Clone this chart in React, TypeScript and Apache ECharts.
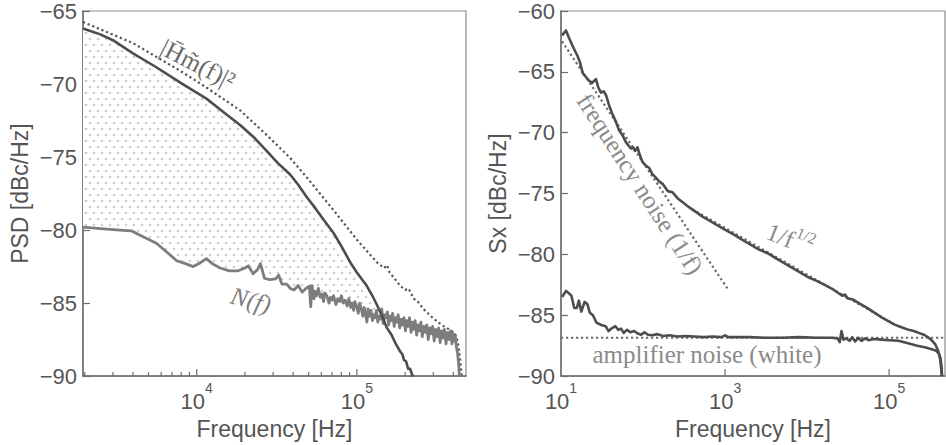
import React, { useEffect, useRef } from "react";
import * as echarts from "echarts";

// ---------- Left panel data (frequency in Hz, PSD in dBc/Hz) ----------
const hSolid: [number, number][] = [
  [1950, -66.2], [2500, -66.6], [3000, -67.0], [4000, -67.9], [5500, -68.8], [7900, -69.9],
  [11500, -71.0], [15000, -72.0], [18650, -72.8], [23000, -73.7], [27400, -74.6], [32000, -75.4],
  [38300, -76.2], [43000, -76.9], [48700, -77.75], [55000, -78.5], [62000, -79.3], [71500, -80.2],
  [80000, -81.1], [90800, -82.2], [100000, -82.9], [108000, -83.4], [115000, -83.8], [125000, -84.5],
  [133000, -85.1], [144000, -85.9], [154000, -86.7], [165000, -87.2], [175000, -87.8], [186000, -88.3],
  [192000, -88.5], [197000, -88.9], [203000, -89.0], [209000, -89.5], [215000, -89.5], [221000, -89.9],
  [226000, -90.0],
];

const hDotted: [number, number][] = [
  [1950, -65.75], [4000, -67.2], [7900, -69.1], [11500, -70.24], [18650, -71.8], [27400, -73.5],
  [38300, -75.06], [48700, -76.4], [71500, -78.64], [100000, -80.66], [133000, -82.2], [148000, -82.6],
  [154000, -82.4], [160000, -82.9], [186000, -83.8], [200000, -84.1], [210000, -84.0], [227000, -84.7],
  [240000, -84.9], [260000, -85.4], [290000, -85.9], [320000, -86.3], [350000, -86.6], [390000, -86.9],
  [412000, -87.15], [425000, -87.6], [436000, -88.4], [445000, -89.3], [452000, -90.0],
];

const noiseN: [number, number][] = [
  [1950, -79.8], [2500, -79.9], [3300, -80.0], [3900, -80.05], [4700, -80.5], [5600, -80.9],
  [6500, -81.5], [7500, -82.1], [8500, -82.3], [9500, -82.5], [10500, -82.25], [11500, -81.96],
  [12500, -82.3], [14000, -82.6], [16000, -82.8], [18000, -82.8], [20000, -82.6], [21000, -82.45],
  [22500, -83.0], [24000, -82.7], [25000, -82.3], [26500, -83.3], [28500, -83.4], [31000, -83.35],
  [32500, -83.1], [34000, -83.7], [36500, -83.7], [38500, -84.0], [40500, -84.1], [43000, -83.8],
  [45500, -84.25], [48000, -84.0], [50500, -83.85], [51500, -85.25], [52500, -83.8], [54000, -84.7],
  [55000, -84.2], [56000, -84.5], [57500, -84.0], [59000, -84.6], [60500, -84.4], [62000, -84.9],
  [63000, -84.3], [65000, -84.5], [67000, -85.0], [68500, -84.6], [70000, -84.8], [71500, -84.5],
  [74000, -85.1], [76000, -84.7], [78000, -84.9], [80000, -84.5], [82000, -85.0], [84500, -84.8],
  [87000, -85.2], [89000, -84.7], [91500, -85.3], [93000, -85.0], [95500, -85.5], [97000, -84.9],
  [99500, -85.2], [102000, -85.7], [104000, -85.0], [106500, -85.4], [109000, -85.9], [111000, -85.3],
  [113500, -85.8], [115500, -86.3], [117500, -85.4], [120000, -85.9], [122500, -85.5], [125000, -86.2],
  [127500, -85.8], [130000, -86.0], [132500, -85.5], [135000, -86.3], [138000, -85.9], [141000, -86.1],
  [143000, -85.4], [146000, -86.4], [149000, -85.8], [152000, -86.0], [155000, -85.6], [158000, -86.5],
  [161000, -85.9], [164000, -86.2], [167000, -85.7], [171000, -86.6], [174000, -86.0], [178000, -86.3],
  [181000, -85.8], [185000, -86.7], [189000, -86.1], [193000, -86.5], [197000, -86.0], [201000, -86.9],
  [205000, -86.2], [209000, -86.6], [213000, -86.0], [218000, -87.0], [222000, -86.3], [227000, -86.8],
  [231000, -86.2], [236000, -87.2], [241000, -86.5], [246000, -86.9], [251000, -86.3], [256000, -87.3],
  [262000, -86.6], [267000, -87.0], [273000, -86.5], [279000, -87.5], [285000, -86.7], [291000, -87.1],
  [297000, -86.6], [304000, -87.6], [310000, -86.8], [317000, -87.3], [324000, -86.7], [331000, -87.7],
  [338000, -86.9], [345000, -87.4], [352000, -86.8], [360000, -87.8], [368000, -87.0], [376000, -87.5],
  [384000, -86.9], [392000, -87.8], [400000, -87.1], [406000, -87.6], [412000, -87.3], [418000, -88.0],
  [425000, -88.4], [432000, -89.2], [437000, -90.0],
];

// ---------- Right panel data ----------
const sxUpper: [number, number][] = [
  [10.3, -62.0], [11.5, -61.6], [12.5, -62.2], [13.9, -62.9], [15.9, -63.7], [17, -64.2],
  [18.4, -65.1], [20, -65.4], [22.1, -65.75], [24, -65.9], [26.7, -65.6], [28.5, -66.3],
  [30.7, -66.7], [33, -66.6], [35.3, -66.9], [38.8, -67.8], [42, -68.4], [46.7, -69.1],
  [51, -69.8], [56.2, -70.2], [62, -70.8], [71.1, -71.3], [76, -71.2], [80, -71.5],
  [85.7, -71.2], [92, -71.9], [98.6, -72.4], [108, -72.7], [119, -72.9], [130, -73.4],
  [143, -73.7], [157, -74.0], [173, -74.2], [200, -74.8], [229, -74.9], [265, -75.4],
  [302, -75.7], [360, -76.1], [439, -76.5], [530, -76.9], [638, -77.2], [800, -77.6],
  [1019, -78.0], [1300, -78.4], [1625, -78.8], [2050, -79.2], [2592, -79.6], [3300, -79.9],
  [4137, -80.3], [5200, -80.7], [6603, -81.1], [8300, -81.5], [10520, -81.9], [13300, -82.2],
  [16800, -82.55], [21000, -82.9], [26800, -83.4], [29000, -83.3], [31000, -83.6], [36000, -83.7],
  [42700, -84.0], [54000, -84.4], [68200, -84.85], [82000, -85.2], [99100, -85.5], [115000, -85.75],
  [131000, -85.9], [150000, -86.05], [173000, -86.2], [200000, -86.3], [230000, -86.45], [265000, -86.6],
  [304000, -86.85], [335000, -87.1], [366000, -87.4], [395000, -87.9], [422000, -88.5], [435000, -89.2],
  [442000, -90.0],
];

const sxLower: [number, number][] = [
  [10.3, -83.5], [11.5, -83.0], [12.5, -83.2], [13.4, -83.4], [14.5, -84.4], [15.6, -84.4],
  [16.5, -83.8], [17.7, -84.7], [19.4, -83.9], [21, -84.1], [22.5, -84.8], [24.5, -85.0],
  [27, -85.6], [31, -85.8], [35, -85.9], [38, -86.3], [42, -86.05], [46, -85.9],
  [50, -86.2], [54, -86.1], [58, -86.45], [64, -86.2], [70, -86.4], [78, -86.3],
  [86, -86.5], [95, -86.6], [104, -86.4], [115, -86.6], [130, -86.65], [150, -86.55],
  [175, -86.7], [210, -86.65], [260, -86.75], [330, -86.7], [420, -86.75], [550, -86.8],
  [700, -86.75], [900, -86.8], [1000, -86.65], [1100, -86.8], [1400, -86.8], [2000, -86.8],
  [3000, -86.85], [5000, -86.85], [8000, -86.8], [13000, -86.85], [20000, -86.85], [23500, -86.9],
  [25000, -87.2], [26300, -86.3], [27800, -87.0], [30000, -86.9], [33000, -87.1], [35500, -86.8],
  [38500, -87.15], [42500, -86.85], [46000, -87.1], [51000, -86.9], [56000, -87.05], [65000, -86.95],
  [80000, -87.0], [100000, -87.05], [130000, -87.1], [170000, -87.3], [220000, -87.5], [280000, -87.65],
  [330000, -87.8], [370000, -87.9], [400000, -88.1], [420000, -88.6], [432000, -89.4], [440000, -90.0],
];

const flickerFit: [number, number][] = [[10.3, -62.5], [1067, -82.8]];
const sqrtFit: [number, number][] = [[400, -76.3], [120000, -85.8]];
const whiteFit: [number, number][] = [[10, -86.85], [480000, -86.85]];

// ---------- Axis ticks ----------
const leftMinorTicks = [2000, 3000, 4000, 5000, 6000, 7000, 8000, 9000, 20000, 30000, 40000, 50000, 60000, 70000, 80000, 90000, 200000, 300000, 400000];
const leftMajorTicks = [10000, 100000];
const rightMajorTicks = [1000, 100000];

const SANS = '"Liberation Sans", Arial, sans-serif';
const SERIF = '"Liberation Serif", "DejaVu Serif", serif';
const TXT = "#555555";
const AXIS = "#6e6e6e";
const ANN = "#8a8a8a";

function makeDots() {
  const c = document.createElement("canvas");
  c.width = 8;
  c.height = 12;
  const ctx = c.getContext("2d")!;
  ctx.fillStyle = "#ffffff";
  ctx.fillRect(0, 0, 8, 12);
  ctx.fillStyle = "#cdcdcd";
  ctx.beginPath();
  ctx.arc(2, 3, 1.3, 0, Math.PI * 2);
  ctx.fill();
  ctx.beginPath();
  ctx.arc(6, 9, 1.3, 0, Math.PI * 2);
  ctx.fill();
  return c;
}

function expFormatter(onlyOdd: boolean) {
  return (v: number) => {
    const e = Math.log10(v);
    const r = Math.round(e);
    if (Math.abs(e - r) > 1e-6) return "";
    if (onlyOdd && r % 2 === 0) return "";
    return `{b|10}{s|${r}}`;
  };
}

const richExp = {
  b: { fontSize: 22, lineHeight: 31, verticalAlign: "bottom", color: TXT, fontFamily: SANS },
  s: { fontSize: 14, lineHeight: 14, verticalAlign: "top", color: TXT, fontFamily: SANS },
};

const yFmt = (v: number) => (v < 0 ? "\u2212" + Math.abs(v) : String(v));

function xAxisDef(grid: number, min: number, max: number, onlyOdd: boolean) {
  return {
    type: "log",
    logBase: 10,
    gridIndex: grid,
    min,
    max,
    axisLine: { show: true, lineStyle: { color: AXIS, width: 1.5 } },
    axisTick: { show: false },
    splitLine: { show: false },
    axisLabel: { formatter: expFormatter(onlyOdd), rich: richExp, margin: 5, showMinLabel: true, showMaxLabel: false },
    name: "Frequency [Hz]",
    nameLocation: "middle",
    nameGap: 33,
    nameTextStyle: { fontSize: 23, color: TXT, fontFamily: SANS },
  };
}

function yAxisDef(grid: number, min: number, max: number, name: string) {
  return {
    type: "value",
    gridIndex: grid,
    min,
    max,
    interval: 5,
    axisLine: { show: true, lineStyle: { color: AXIS, width: 1.5 } },
    axisTick: { show: true, inside: true, length: 7, lineStyle: { color: AXIS, width: 1.2 } },
    splitLine: { show: false },
    axisLabel: { formatter: yFmt, fontSize: 22, color: TXT, fontFamily: SANS, margin: 6 },
    name,
    nameLocation: "middle",
    nameGap: 52,
    nameTextStyle: { fontSize: 23, color: TXT, fontFamily: SANS },
  };
}

function tickSeries(xi: number, ticks: number[], len: number) {
  return {
    type: "custom",
    xAxisIndex: xi,
    yAxisIndex: xi,
    silent: true,
    clip: false,
    z: 6,
    data: ticks.map((t) => [t, len]),
    renderItem: (_p: any, api: any) => {
      const p = api.coord([api.value(0), -90]);
      const l = api.value(1);
      return {
        type: "line",
        shape: { x1: p[0], y1: p[1], x2: p[0], y2: p[1] - l },
        style: { stroke: AXIS, lineWidth: 1.2 },
      };
    },
  };
}

function line(xi: number, data: [number, number][], color: string, width: number, dotted = false, z = 3) {
  return {
    type: "line",
    xAxisIndex: xi,
    yAxisIndex: xi,
    data,
    showSymbol: false,
    symbol: "none",
    silent: true,
    z,
    lineStyle: dotted
      ? { color, width, type: [2.2, 2.8], cap: "butt" }
      : { color, width, join: "round" },
  };
}

function buildOption() {
  const dots = makeDots();
  const crossF = 134000;
  const upper = hSolid.filter((d) => d[0] <= crossF);
  const lower = noiseN.filter((d) => d[0] <= crossF).slice().reverse();
  return {
    animation: false,
    backgroundColor: "#ffffff",
    grid: [
      { left: 83, top: 7, width: 383, height: 372, show: true, borderColor: "#8c8c8c", borderWidth: 1.2 },
      { left: 561, top: 7, width: 384, height: 372, show: true, borderColor: "#8c8c8c", borderWidth: 1.2 },
    ],
    xAxis: [xAxisDef(0, 1950, 480000, false), xAxisDef(1, 10, 480000, true)],
    yAxis: [yAxisDef(0, -90, -65, "PSD [dBc/Hz]"), yAxisDef(1, -90, -60, "Sx [dBc/Hz]")],
    series: [
      {
        type: "custom",
        xAxisIndex: 0,
        yAxisIndex: 0,
        silent: true,
        z: 1,
        data: [hSolid[0]],
        renderItem: (_p: any, api: any) => {
          const pts = [...upper.map((d) => api.coord(d)), ...lower.map((d) => api.coord(d))];
          return {
            type: "polygon",
            shape: { points: pts },
            style: { fill: { image: dots, repeat: "repeat", imageWidth: 8, imageHeight: 12 }, stroke: null },
          };
        },
      },
      line(0, hDotted, "#555555", 2.2, true),
      line(0, noiseN, "#7d7d7d", 2.8, false, 3),
      line(0, hSolid, "#4d4d4d", 2.6, false, 4),
      tickSeries(0, leftMinorTicks, 4),
      tickSeries(0, leftMajorTicks, 7),
      line(1, flickerFit, "#6a6a6a", 2.2, true),
      line(1, sqrtFit, "#6a6a6a", 2.2, true),
      line(1, whiteFit, "#6a6a6a", 2.2, true),
      line(1, sxLower, "#4d4d4d", 2.6, false, 4),
      line(1, sxUpper, "#4d4d4d", 2.6, false, 4),
      tickSeries(1, rightMajorTicks, 7),
    ],
    graphic: [
      {
        type: "text",
        x: 198,
        y: 64,
        rotation: (-27 * Math.PI) / 180,
        z: 10,
        style: { text: "|H\u0304m\u0303(f)|\u00b2", fontSize: 25, fontFamily: SERIF, fill: "#6a6a6a", align: "center", verticalAlign: "middle" },
      },
      {
        type: "text",
        x: 251,
        y: 300,
        rotation: (-15 * Math.PI) / 180,
        z: 10,
        style: { text: "N(f)", fontSize: 25, fontStyle: "italic", fontFamily: SERIF, fill: "#7d7d7d", align: "center", verticalAlign: "middle" },
      },
      {
        type: "text",
        x: 640,
        y: 184,
        rotation: (-57 * Math.PI) / 180,
        z: 10,
        style: { text: "frequency noise (1/f)", fontSize: 25, fontFamily: SERIF, fill: ANN, align: "center", verticalAlign: "middle" },
      },
      {
        type: "text",
        x: 791,
        y: 237,
        rotation: (-22 * Math.PI) / 180,
        z: 10,
        style: {
          text: "{a|1/f}{b|1/2}",
          align: "center",
          verticalAlign: "middle",
          rich: {
            a: { fontSize: 25, lineHeight: 30, verticalAlign: "bottom", fontFamily: SERIF, fill: ANN, color: ANN },
            b: { fontSize: 16, lineHeight: 16, verticalAlign: "top", fontFamily: SERIF, fill: ANN, color: ANN },
          },
        },
      },
      {
        type: "text",
        x: 707,
        y: 354,
        z: 10,
        style: { text: "amplifier noise (white)", fontSize: 25, fontFamily: SERIF, fill: ANN, align: "center", verticalAlign: "middle" },
      },
    ],
  };
}

export default function App() {
  const ref = useRef<HTMLDivElement>(null);
  useEffect(() => {
    const chart = echarts.init(ref.current!, null, { renderer: "svg" });
    chart.setOption(buildOption() as any);
    return () => chart.dispose();
  }, []);
  return (
    <div
      ref={ref}
      style={{ position: "absolute", left: 0, top: 0, width: 946, height: 445, background: "#fff" }}
    />
  );
}
